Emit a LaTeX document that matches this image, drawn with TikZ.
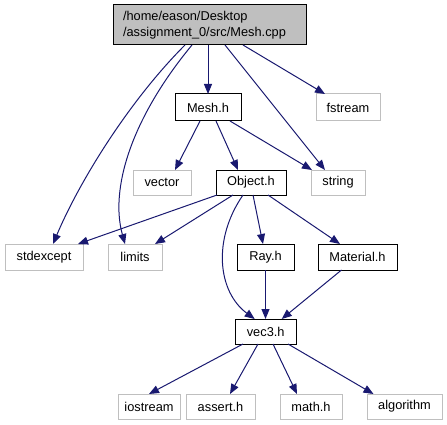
\documentclass[tikz,border=0pt]{standalone}
\usepackage{fontspec}
\setmainfont{Liberation Sans}
\usetikzlibrary{arrows.meta}
\definecolor{edgecol}{HTML}{191970}
\definecolor{greyb}{HTML}{BFBFBF}
\begin{document}
\begin{tikzpicture}[x=1pt,y=-1pt,
  font=\fontsize{12.8}{15.5}\selectfont,
  base/.style={inner sep=0pt, outer sep=0pt, minimum height=26pt, line width=1pt},
  box/.style={base, draw=black},
  ext/.style={base, draw=greyb},
  arr/.style={draw=edgecol, line width=1pt, -{Triangle[length=10pt,width=8pt]}}]
\useasboundingbox (0,0) rectangle (447,425);
% nodes
\node[box, fill=greyb, text width=173pt, inner xsep=10pt, minimum height=40pt, align=left] (cpp) at (209.5,25) {/home/eason/Desktop\\/assignment\_0/src/Mesh.cpp};
\node[box, minimum width=66pt, minimum height=27pt] (mesh) at (208,107.5) {Mesh.h};
\node[ext, minimum width=64pt, minimum height=27pt] (fstream) at (348,107.5) {fstream};
\node[ext, minimum width=58pt, minimum height=25pt] (vector) at (162,182.5) {vector};
\node[box, minimum width=70pt, minimum height=25pt] (object) at (251,182.5) {Object.h};
\node[ext, minimum width=54pt, minimum height=25pt] (string) at (338,182.5) {string};
\node[ext, minimum width=78pt] (stdexcept) at (44,257) {stdexcept};
\node[ext, minimum width=54pt] (limits) at (135,257) {limits};
\node[box, minimum width=57pt] (ray) at (265.5,257) {Ray.h};
\node[box, minimum width=79pt] (material) at (357.5,257) {Material.h};
\node[box, minimum width=61pt, minimum height=25pt] (vec) at (265.7,331.5) {vec3.h};
\node[ext, minimum width=62pt, minimum height=25pt] (iostream) at (149,406.5) {iostream};
\node[ext, minimum width=69pt, minimum height=25pt] (assert) at (220.5,406.5) {assert.h};
\node[ext, minimum width=62pt, minimum height=25pt] (math) at (311,406.5) {math.h};
\node[ext, minimum width=75pt, minimum height=25pt] (algorithm) at (404.5,406.5) {algorithm};
% edges from Mesh.cpp
\draw[arr] ([xshift=-24.5pt]cpp.south) .. controls (130,100) and (80,180) .. ([xshift=9pt]stdexcept.north);
\draw[arr] ([xshift=-17.5pt]cpp.south) .. controls (130,120) and (110,190) .. ([xshift=-10pt]limits.north);
\draw[arr] (cpp.south -| mesh.north) -- (mesh.north);
\draw[arr] ([xshift=15.5pt]cpp.south) -- ([xshift=-13pt]string.north);
\draw[arr] ([xshift=33.5pt]cpp.south) -- ([xshift=-23pt]fstream.north);
% edges from Mesh.h
\draw[arr] ([xshift=-8pt]mesh.south) -- ([xshift=13pt]vector.north);
\draw[arr] ([xshift=8pt]mesh.south) -- ([xshift=-13pt]object.north);
\draw[arr] ([xshift=22pt]mesh.south) -- ([xshift=-26pt]string.north);
% edges from Object.h
\draw[arr] ([xshift=-34pt]object.south) -- ([xshift=-5pt]stdexcept.north east);
\draw[arr] ([xshift=-18pt]object.south) -- ([xshift=-7pt]limits.north east);
\draw[arr] ([xshift=-8pt]object.south) .. controls (212,240) and (218,292) .. ([xshift=-11pt]vec.north);
\draw[arr] ([xshift=2pt]object.south) -- ([xshift=-2.5pt]ray.north);
\draw[arr] ([xshift=17pt]object.south) -- ([xshift=-17.5pt]material.north);
% into vec3.h
\draw[arr] (ray.south) -- (ray.south |- vec.north);
\draw[arr] ([xshift=-16pt]material.south) -- ([xshift=16pt]vec.north);
% from vec3.h
\draw[arr] ([xshift=-22.7pt]vec.south) -- (iostream.north);
\draw[arr] ([xshift=-7.7pt]vec.south) -- ([xshift=9.5pt]assert.north);
\draw[arr] ([xshift=7.3pt]vec.south) -- ([xshift=-14pt]math.north);
\draw[arr] ([xshift=22.3pt]vec.south) -- ([xshift=-31pt]algorithm.north);
\end{tikzpicture}
\end{document}
